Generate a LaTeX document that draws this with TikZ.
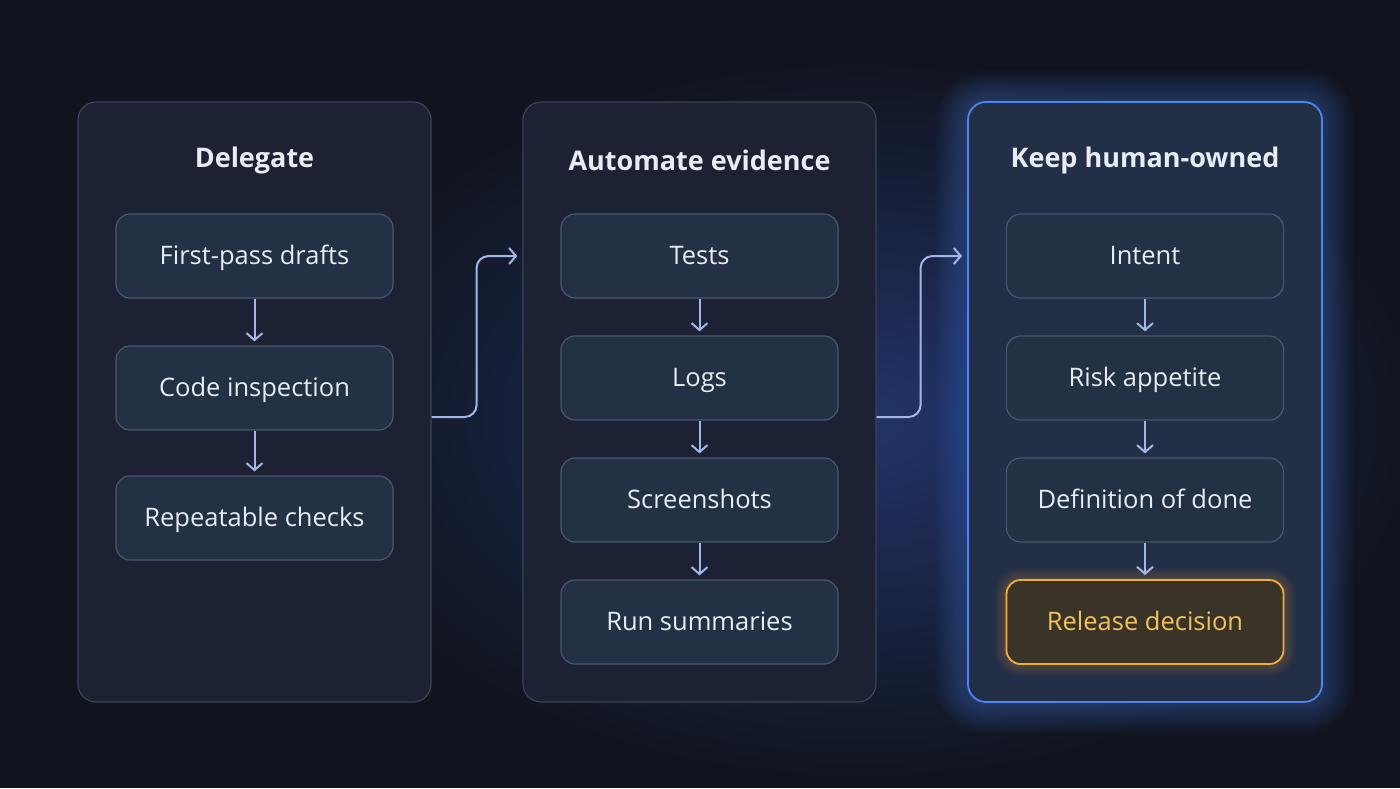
\documentclass[tikz,border=0pt]{standalone}
\usepackage{fontspec}
\setmainfont{Open Sans}
\usetikzlibrary{arrows.meta}
\definecolor{bgdark}{HTML}{10141E}
\definecolor{bgglow}{HTML}{22346A}
\definecolor{panelfill}{HTML}{1C2233}
\definecolor{panelline}{HTML}{3A4358}
\definecolor{itemfill}{HTML}{243043}
\definecolor{itemline}{HTML}{4A5670}
\definecolor{arrowc}{HTML}{A3B6E6}
\definecolor{keepline}{HTML}{4C86F0}
\definecolor{keepfill}{HTML}{232E47}
\definecolor{relline}{HTML}{F2AC3C}
\definecolor{relfill}{HTML}{3A3327}
\definecolor{reltext}{HTML}{F4C25E}
\definecolor{textc}{HTML}{E8ECF4}
\tikzset{
  panel/.style={draw=panelline, fill=panelfill, line width=1.2pt, rounded corners=18pt,
    minimum width=353pt, minimum height=600pt, inner sep=0pt},
  item/.style={draw=itemline, fill=itemfill, line width=1.2pt, rounded corners=14pt,
    minimum width=277pt, minimum height=84pt, inner sep=0pt, text=textc,
    text height=17.5pt, text depth=0pt, font=\fontsize{25.5}{28}\selectfont},
  heading/.style={text=textc, font=\fontsize{27}{32}\selectfont\bfseries},
  flow/.style={draw=arrowc, line width=2pt, -{Straight Barb[length=7pt,width=16pt]}},
}
\begin{document}
\begin{tikzpicture}[x=1pt,y=-1pt]
\useasboundingbox (0,0) rectangle (1400,788);
\fill[bgdark] (0,0) rectangle (1400,788);
\shade[inner color=bgglow, outer color=bgdark] (860,420) ellipse (560 and 360);
\node[panel] (delegate) at (254.5,402) {};
\node[panel] (automate) at (699.5,402) {};
\foreach \w in {4,8,...,64}
  \draw[keepline, line width=\w pt, opacity=0.025, rounded corners=18pt] (968,102) rectangle (1322,702);
\node[panel, draw=keepline, fill=keepfill, line width=1.8pt, minimum width=354pt] (keep) at (1145,402) {};
\node[heading] (h1) at (254.5,160) {Delegate};
\node[heading] (h2) at (699.5,160) {Automate evidence};
\node[heading] (h3) at (1145,160) {Keep human-owned};
\node[item] (d1) at (254.5,256) {First-pass drafts};
\node[item] (d2) at (254.5,388) {Code inspection};
\node[item] (d3) at (254.5,518) {Repeatable checks};
\node[item] (a1) at (699.5,256) {Tests};
\node[item] (a2) at (699.5,378) {Logs};
\node[item] (a3) at (699.5,500) {Screenshots};
\node[item] (a4) at (699.5,622) {Run summaries};
\node[item] (k1) at (1145,256) {Intent};
\node[item] (k2) at (1145,378) {Risk appetite};
\node[item] (k3) at (1145,500) {Definition of done};
\foreach \w in {3,6,...,24}
  \draw[relline, line width=\w pt, opacity=0.03, rounded corners=14pt] (1006.5,580) rectangle (1283.5,664);
\node[item, draw=relline, fill=relfill, text=reltext, line width=1.8pt] (k4) at (1145,622) {Release decision};
\draw[flow, shorten >=4pt] (d1) -- (d2);
\draw[flow, shorten >=4pt] (d2) -- (d3);
\draw[flow, shorten >=4pt] (a1) -- (a2);
\draw[flow, shorten >=4pt] (a2) -- (a3);
\draw[flow, shorten >=4pt] (a3) -- (a4);
\draw[flow, shorten >=4pt] (k1) -- (k2);
\draw[flow, shorten >=4pt] (k2) -- (k3);
\draw[flow, shorten >=4pt] (k3) -- (k4);
\draw[flow, rounded corners=12pt] ([yshift=-15pt]delegate.east) -- ++(45,0) |- ([xshift=-5pt]automate.west |- a1.west);
\draw[flow, rounded corners=12pt] ([yshift=-15pt]automate.east) -- ++(44,0) |- ([xshift=-5pt]keep.west |- k1.west);
\end{tikzpicture}
\end{document}
